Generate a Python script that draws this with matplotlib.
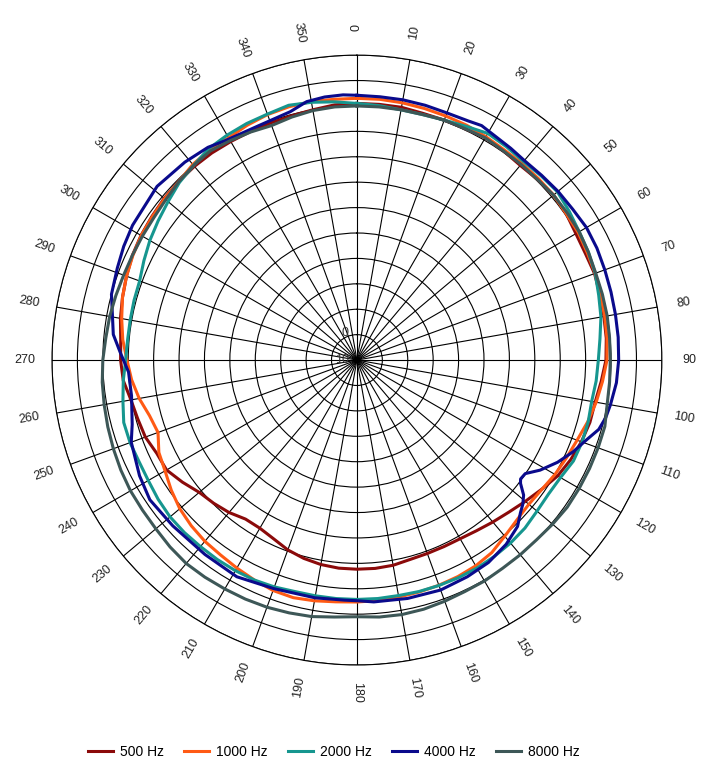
import numpy as np
import matplotlib
matplotlib.use("Agg")
import matplotlib.pyplot as plt

plt.rcParams['font.family'] = ['Liberation Sans', 'DejaVu Sans']

# ---- data (dB, polar angle in degrees, clockwise from top) ----
angles = list(range(0, 360, 5))

hz500 = [91, 91, 91, 90.5, 90.5, 90.5, 91, 90.5, 90, 90.5, 91, 90.5, 89.5, 89.2, 89.5, 89, 88.7, 88.5,
         88, 86.5, 85.2, 84.9, 84, 82.8, 81.2, 78.7, 76.5, 74.6, 73.2, 72, 71.2, 71, 71, 71.2, 72, 72.3,
         72.3, 72.2, 71.7, 70.8, 69.5, 67.6, 66.4, 66.4, 68.3, 69.7, 71, 73.8, 76.5, 76.9, 78.6, 79.3,
         80.3, 82.3, 83, 83.3, 84.5, 85.5, 86.5, 87.5, 88.1, 88.5, 89, 89.3, 89.5, 89.5, 89.3, 89.2,
         89.3, 89.5, 90, 90.8]

hz1000 = [93, 93, 92.8, 92.5, 92.2, 92, 91.5, 91, 91, 91, 91, 90.5, 90.5, 90, 89.8, 89.2, 89, 88.8,
          88.4, 87, 85.6, 84, 82.2, 81, 80, 78.8, 78.3, 79, 80.5, 82.5, 83.5, 84, 84.3, 84.5, 84.7, 85,
          85.2, 85.5, 86.2, 86.8, 86.5, 85.5, 84.5, 83.6, 83.1, 82.2, 81, 79.2, 77.2, 76, 73.3, 74.5,
          77, 79, 80.5, 82.5, 84, 85.5, 86.5, 87.3, 88, 88.3, 88.8, 89.2, 90.5, 91, 91, 92, 92.8, 93.2,
          93.3, 93]

hz2000 = [91, 90.5, 90, 90, 90.5, 91.5, 93, 92.5, 92, 92.5, 93, 92, 91, 90.5, 89.8, 88.5, 87.5, 86,
          85, 84.5, 83.8, 84.2, 84.3, 84, 82.5, 82, 82.5, 83.5, 84, 84.3, 84.5, 84.5, 84.4, 84.3, 84.1,
          84.2, 84.2, 84.2, 84.2, 84.3, 85, 85.5, 85.7, 85.8, 85.8, 86, 86, 85.5, 84.8, 84.6, 85, 85,
          83.5, 82.3, 81, 80.6, 80.6, 80.8, 81, 82.5, 84.1, 85.5, 87, 88.8, 90, 91.6, 92.2, 92.7, 93,
          93.8, 93, 92]

angles_4000 = [0, 5, 10, 15, 20, 25, 28, 32, 36, 40, 45, 50, 55, 60, 65, 70, 75, 80, 85, 90, 95, 100,
               103, 106, 109, 113, 117, 121, 124, 126, 127, 129, 131, 133, 136, 141, 147, 153, 160,
               168, 176, 180, 183, 190, 200, 209, 218, 228, 236, 242, 250, 254, 261, 267, 272, 276,
               285, 291, 296, 301, 311, 319, 325, 329, 337, 345, 349, 353, 357]
hz4000 = [94.2, 94, 94, 93.8, 93.5, 93.8, 94.5, 93.5, 93, 92.5, 92.8, 93.3, 93.6, 94.3, 94.2, 93.8,
          93.5, 93.3, 93.2, 93, 92.5, 91.3, 90.5, 89, 85.8, 82.4, 78.6, 74.1, 69.9, 69.6, 70.6, 74.4,
          76.5, 78, 81, 83.3, 85, 85.7, 86.3, 85.9, 85.4, 84.7, 84.6, 85, 85.7, 87.5, 87.1, 87.5, 88.3,
          86.9, 84.5, 82, 79.8, 80, 83.3, 86.4, 90, 91, 92.1, 93, 94.2, 93.2, 92.2, 90.7, 90, 91.2,
          93.6, 94.3, 94.5]

hz8000 = [90, 90, 90, 90, 90.5, 90.5, 91, 90.5, 90.5, 90.5, 91, 91, 91, 90.5, 90, 90, 90, 89.8, 89.7,
          89.8, 90, 91, 91, 91, 91, 91, 90.5, 90, 90, 90, 90.4, 90.5, 91, 91.5, 91.7, 91.5, 91, 91.5,
          92.5, 93, 93.5, 93.8, 94, 94.3, 94.5, 94, 93.3, 93, 92.9, 92.5, 92, 91.5, 91, 90.6, 90, 89.2,
          88.8, 88.2, 87.7, 87.5, 87.5, 87.6, 88.2, 89.2, 90, 90.5, 89.7, 89, 88.2, 89, 89.7, 90]

series_labels = ["500 Hz", "1000 Hz", "2000 Hz", "4000 Hz", "8000 Hz"]
series_colors = ["#8B0A0A", "#FF5A14", "#16968F", "#0A0A8C", "#3D5757"]

angle_ticks = list(range(0, 360, 10))
r_min, r_max, r_step = -10, 110, 10
r_tick_text = {-10: "10", 0: "0"}

# ---- figure ----
fig = plt.figure(figsize=(7.15, 7.74), dpi=100)
ax = fig.add_axes([0.0727, 0.1408, 0.853, 0.788], projection='polar')
ax.set_theta_zero_location('N')
ax.set_theta_direction(-1)
ax.set_ylim(r_min, r_max)

def closed(a, v):
    a = np.deg2rad(np.r_[a, a[0] + 360])
    v = np.r_[v, v[0]]
    return a, v

data = [(angles, hz500), (angles, hz1000), (angles, hz2000), (angles_4000, hz4000), (angles, hz8000)]
for (a, v), lab, col in zip(data, series_labels, series_colors):
    t, r = closed(np.array(a, float), np.array(v, float))
    ax.plot(t, r, color=col, lw=2.2, label=lab, solid_joinstyle='round', zorder=3)

ax.set_xticks(np.deg2rad(angle_ticks))
ax.set_xticklabels([])
ax.set_yticks(np.arange(r_min + r_step, r_max + 1, r_step))
ax.set_yticklabels([])
ax.grid(True, color='black', lw=0.8)
ax.spines['polar'].set_color('black')
ax.spines['polar'].set_linewidth(0.8)
ax.tick_params(axis='both', length=0)

# angle labels
label_r = r_max + 10.8
for a in angle_ticks:
    rot = 90 - a
    rot = (rot + 180) % 360 - 180
    if rot > 90:
        rot -= 180
    elif rot < -90:
        rot += 180
    ax.text(np.deg2rad(a), label_r, str(a), rotation=rot, rotation_mode='anchor',
            ha='center', va='center', fontsize=9, color='#222222', clip_on=False)

# radial labels
for rv, txt in r_tick_text.items():
    ax.annotate(txt, xy=(0, rv), xytext=(-6, 0 if rv == r_min else 1), textcoords='offset points',
                ha='right', va='center', fontsize=9, color='#333333', zorder=4)

fig.legend(loc='center', bbox_to_anchor=(334 / 715, 0.0284), ncol=5, frameon=False, fontsize=10,
           handlelength=1.8, handletextpad=0.5, columnspacing=1.45)

fig.savefig("out.png", dpi=100, facecolor='white')
